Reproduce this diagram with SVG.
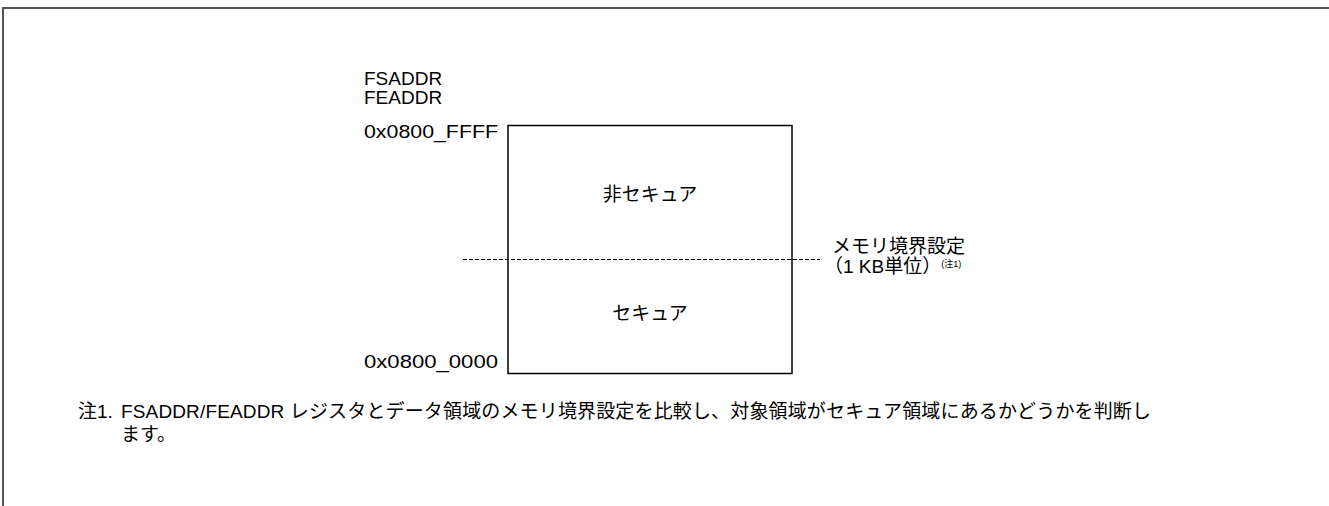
<svg xmlns="http://www.w3.org/2000/svg" width="1329" height="506" viewBox="0 0 1329 506">
<style>
text{font-family:"Liberation Sans","Noto Sans CJK JP",sans-serif;font-size:19px;fill:#000}
.frame{stroke:#555;stroke-width:2;fill:none}
.box{stroke:#000;stroke-width:1.5;fill:#fff}
.dash{stroke:#000;stroke-width:1;stroke-dasharray:4 2;fill:none}
</style>
<rect width="1329" height="506" fill="#fff"/>
<path class="frame" d="M1330 8 H3 V506"/>
<g id="labels">
<text x="364" y="85" font-size="18.5">FSADDR</text>
<text x="364" y="104" font-size="18.5">FEADDR</text>
<text x="364" y="138" textLength="134" lengthAdjust="spacingAndGlyphs">0x0800_FFFF</text>
<text x="364" y="368" textLength="134" lengthAdjust="spacingAndGlyphs">0x0800_0000</text>
</g>
<g id="memory">
<rect class="box" x="508" y="125.5" width="284" height="248"/>
<text x="650" y="201" text-anchor="middle">非セキュア</text>
<text x="650" y="320" text-anchor="middle">セキュア</text>
</g>
<g id="connectors">
<line class="dash" x1="463" y1="259.5" x2="820" y2="259.5"/>
</g>
<g id="boundary">
<text x="832" y="253">メモリ境界設定</text>
<text x="824" y="273">（1 KB単位）<tspan font-size="9" dy="-6">(注1)</tspan></text>
</g>
<g id="note">
<text x="78" y="418" font-size="17">注</text>
<text x="97" y="418" font-size="18">1.</text>
<text x="121" y="418" textLength="1030" lengthAdjust="spacing">FSADDR/FEADDR レジスタとデータ領域のメモリ境界設定を比較し、対象領域がセキュア領域にあるかどうかを判断し</text>
<text x="121" y="441">ます。</text>
</g>
</svg>
